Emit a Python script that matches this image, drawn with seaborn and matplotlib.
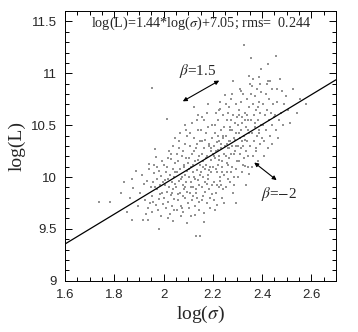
import matplotlib
matplotlib.use("Agg")
import matplotlib.pyplot as plt
import seaborn as sns
import numpy as np
import pandas as pd

# ---- data ----
log_sigma = [
    1.739, 1.783, 1.827, 1.839, 1.853,
    1.871, 1.875, 1.872, 1.887, 1.862, 1.895,
    1.915, 1.936, 1.930, 1.905, 1.920, 1.940, 1.945, 1.912, 1.948, 1.925, 1.938, 1.942, 1.932,
    1.955, 1.965, 1.970, 1.980, 1.952, 1.958, 1.962, 1.968, 1.972, 1.975, 1.978, 1.983, 1.986,
    1.990, 1.993, 1.996, 1.954, 1.961, 1.966, 1.974, 1.981, 1.988, 1.994, 1.998, 1.957, 1.985,
    2.013, 2.037, 2.030, 2.002, 2.005, 2.008, 2.010, 2.012, 2.015, 2.018, 2.020, 2.022, 2.025,
    2.027, 2.029, 2.032, 2.034, 2.036, 2.038, 2.040, 2.042, 2.044, 2.046, 2.048, 2.003, 2.016,
    2.024, 2.033, 2.041, 2.047, 2.006, 2.019, 2.045, 2.039,
    2.096, 2.070, 2.052, 2.055, 2.057, 2.060, 2.062, 2.064, 2.066, 2.068, 2.071, 2.073, 2.075,
    2.077, 2.079, 2.081, 2.083, 2.085, 2.087, 2.089, 2.091, 2.093, 2.095, 2.097, 2.099, 2.054,
    2.058, 2.063, 2.069, 2.074, 2.078, 2.084, 2.088, 2.092, 2.098, 2.056, 2.067, 2.080, 2.094, 2.086,
    2.128, 2.123, 2.130, 2.148, 2.102, 2.104, 2.106, 2.108, 2.110, 2.112, 2.114, 2.116, 2.118,
    2.120, 2.122, 2.124, 2.126, 2.129, 2.131, 2.133, 2.135, 2.137, 2.139, 2.141, 2.143, 2.145,
    2.147, 2.149, 2.103, 2.107, 2.111, 2.115, 2.119, 2.125, 2.127, 2.134, 2.138, 2.142, 2.146,
    2.105, 2.113, 2.121, 2.132, 2.136, 2.144, 2.140,
    2.155, 2.164, 2.152, 2.154, 2.156, 2.158, 2.160, 2.162, 2.161, 2.166, 2.168, 2.170, 2.172,
    2.174, 2.176, 2.178, 2.180, 2.182, 2.184, 2.186, 2.188, 2.190, 2.192, 2.194, 2.196, 2.198,
    2.153, 2.157, 2.163, 2.167, 2.171, 2.175, 2.179, 2.183, 2.187, 2.191, 2.195, 2.199, 2.159,
    2.169, 2.177, 2.185, 2.193, 2.197, 2.165, 2.181,
    2.229, 2.218, 2.249, 2.202, 2.204, 2.206, 2.208, 2.210, 2.212, 2.214, 2.216, 2.219, 2.221,
    2.223, 2.225, 2.227, 2.231, 2.233, 2.235, 2.237, 2.239, 2.241, 2.243, 2.245, 2.247, 2.203,
    2.207, 2.211, 2.215, 2.220, 2.224, 2.228, 2.232, 2.236, 2.240, 2.244, 2.248, 2.205, 2.213,
    2.222, 2.230, 2.238, 2.246, 2.209, 2.226, 2.242, 2.217, 2.234,
    2.283, 2.280, 2.294, 2.252, 2.254, 2.256, 2.258, 2.260, 2.262, 2.264, 2.266, 2.268, 2.270,
    2.272, 2.274, 2.276, 2.278, 2.281, 2.284, 2.286, 2.288, 2.290, 2.292, 2.296, 2.298, 2.253,
    2.257, 2.261, 2.265, 2.269, 2.273, 2.277, 2.285, 2.289, 2.293, 2.297, 2.255, 2.263, 2.271,
    2.279, 2.287, 2.295, 2.259, 2.267, 2.275,
    2.327, 2.313, 2.347, 2.335, 2.345, 2.330, 2.302, 2.304, 2.306, 2.308, 2.310, 2.312, 2.314,
    2.316, 2.318, 2.320, 2.322, 2.324, 2.326, 2.328, 2.332, 2.334, 2.336, 2.338, 2.340, 2.342,
    2.344, 2.346, 2.348, 2.303, 2.307, 2.311, 2.315, 2.319, 2.323, 2.331, 2.339, 2.343, 2.349,
    2.305, 2.317, 2.329, 2.341,
    2.355, 2.358, 2.394, 2.387, 2.352, 2.356, 2.360, 2.362, 2.364, 2.366, 2.368, 2.370, 2.372,
    2.374, 2.376, 2.378, 2.380, 2.382, 2.384, 2.386, 2.388, 2.390, 2.392, 2.396, 2.399, 2.353,
    2.359, 2.365, 2.371, 2.377, 2.383, 2.389, 2.397, 2.393,
    2.424, 2.422, 2.432, 2.402, 2.405, 2.408, 2.411, 2.414, 2.417, 2.420, 2.423, 2.426, 2.429,
    2.433, 2.436, 2.439, 2.442, 2.445, 2.448, 2.407, 2.419, 2.441,
    2.456, 2.459, 2.480, 2.452, 2.457, 2.462, 2.468, 2.473, 2.478, 2.485, 2.490, 2.495, 2.465,
    2.505, 2.515, 2.525, 2.540, 2.555, 2.580,
]
log_L = [
    9.76, 9.76, 9.85, 9.95, 9.66,
    9.98, 9.89, 9.59, 10.06, 9.80, 9.72,
    9.59, 9.59, 9.64, 9.85, 9.93, 10.08, 9.75, 10.02, 9.90, 9.78, 9.70, 10.13, 9.96,
    10.86, 10.27, 10.19, 9.50, 9.82, 9.95, 10.04, 9.73, 9.88, 10.10, 9.68, 9.79, 9.92,
    10.01, 9.85, 9.74, 9.66, 10.12, 9.90, 9.98, 10.06, 9.62, 10.15, 9.95, 9.76, 9.84,
    10.56, 10.30, 10.17, 9.80, 9.92, 10.05, 9.70, 9.86, 10.10, 9.98, 9.76, 9.90, 10.02,
    9.64, 9.83, 10.22, 9.95, 9.72, 10.08, 9.88, 10.00, 9.79, 10.14, 9.93, 10.12, 9.60,
    10.25, 9.85, 9.68, 10.05, 9.97, 10.18, 10.38, 9.58,
    9.56, 9.62, 9.90, 10.05, 9.78, 10.15, 9.96, 10.28, 9.85, 10.08, 9.72, 10.00, 10.20,
    9.92, 9.66, 10.12, 9.88, 10.32, 10.02, 9.80, 10.18, 9.95, 10.40, 10.06, 9.75, 10.22,
    9.84, 10.35, 9.98, 9.70, 10.25, 10.10, 9.90, 10.45, 10.14, 9.68, 10.42, 9.82, 9.86, 10.50,
    9.63, 10.68, 9.43, 9.43, 10.00, 10.18, 9.85, 10.30, 9.95, 10.10, 9.78, 10.22, 10.05,
    9.90, 10.38, 10.00, 9.72, 10.15, 9.88, 10.28, 10.07, 9.80, 10.45, 9.97, 10.20, 9.68,
    10.12, 10.35, 9.70, 10.42, 9.90, 10.52, 9.82, 10.25, 9.98, 10.55, 10.16, 9.92, 10.02,
    10.08, 9.62, 10.12, 9.85, 10.32, 9.76, 10.60,
    10.58, 9.57, 10.05, 10.22, 9.90, 10.35, 10.00, 10.15, 9.82, 10.28, 10.08, 9.95, 10.42,
    10.12, 9.75, 10.20, 10.02, 10.48, 9.88, 10.30, 10.10, 9.70, 10.25, 10.05, 10.38, 9.92,
    10.45, 9.78, 10.55, 9.86, 10.18, 10.62, 9.98, 10.32, 9.80, 10.16, 10.50, 10.22, 10.10,
    10.36, 9.93, 10.07, 10.28, 9.84, 9.65, 10.70,
    10.66, 9.73, 10.79, 10.10, 10.30, 9.95, 10.42, 10.18, 9.85, 10.25, 10.05, 10.55, 10.12,
    9.90, 10.35, 10.20, 10.00, 10.45, 10.28, 9.80, 10.15, 10.60, 10.38, 10.02, 10.22, 9.78,
    10.50, 10.08, 9.92, 10.40, 10.65, 9.96, 10.32, 10.10, 9.88, 10.48, 10.30, 10.20, 10.62,
    10.26, 10.72, 10.05, 9.75, 9.68, 10.16, 10.40, 10.34, 9.92,
    10.93, 9.85, 9.75, 10.20, 10.40, 10.05, 10.55, 10.28, 10.12, 10.68, 10.35, 9.95, 10.48,
    10.22, 10.75, 10.30, 10.10, 10.60, 10.38, 10.00, 10.52, 10.25, 10.70, 10.42, 10.15, 9.90,
    10.32, 10.62, 10.18, 10.45, 10.05, 10.80, 10.22, 10.36, 10.08, 10.58, 10.70, 9.98, 10.35,
    10.45, 9.92, 10.30, 10.14, 10.28, 10.55,
    11.27, 10.83, 10.97, 9.92, 10.03, 10.11, 10.30, 10.50, 10.15, 10.65, 10.38, 10.22, 10.72,
    10.45, 10.05, 10.58, 10.30, 10.80, 10.40, 10.18, 10.62, 10.48, 10.25, 10.75, 10.35, 10.10,
    10.55, 10.42, 10.68, 10.00, 10.42, 10.85, 10.28, 10.52, 10.12, 10.36, 10.60, 10.20, 10.90,
    10.60, 10.35, 10.55, 10.45,
    11.15, 10.88, 11.04, 10.96, 10.30, 10.55, 10.42, 10.70, 10.20, 10.60, 10.35, 10.78, 10.48,
    10.25, 10.65, 10.40, 10.85, 10.55, 10.15, 10.45, 10.72, 10.32, 10.62, 10.50, 10.38, 10.80,
    10.10, 10.95, 10.52, 10.28, 10.68, 10.42, 10.82, 10.90,
    11.09, 10.93, 10.93, 10.50, 10.70, 10.35, 10.60, 10.80, 10.45, 10.65, 10.28, 10.55, 10.75,
    10.40, 10.62, 10.85, 10.50, 10.70, 10.58, 10.20, 10.90, 10.32,
    11.17, 10.85, 10.83, 10.60, 10.45, 10.72, 10.55, 10.95, 10.62, 10.50, 10.70, 10.78, 10.38,
    10.65, 10.52, 10.85, 10.62, 10.75, 10.70,
]

fit_slope = 1.44
fit_intercept = 7.05
fit_rms = 0.244

x_limits = [1.6, 2.7]
y_limits = [9.0, 11.6]
x_ticks = [1.6, 1.8, 2.0, 2.2, 2.4, 2.6]
x_ticklabels = ["1.6", "1.8", "2", "2.2", "2.4", "2.6"]
y_ticks = [9.0, 9.5, 10.0, 10.5, 11.0, 11.5]
y_ticklabels = ["9", "9.5", "10", "10.5", "11", "11.5"]

df = pd.DataFrame({"log_sigma": log_sigma, "log_L": log_L})

sns.set_style("ticks")
plt.rcParams["font.family"] = ["Liberation Serif", "DejaVu Serif"]
plt.rcParams["mathtext.fontset"] = "stix"

fig = plt.figure(figsize=(3.58, 3.32), dpi=100)
ax = fig.add_axes([0.1816, 0.1545, 0.757, 0.812])

sns.scatterplot(data=df, x="log_sigma", y="log_L", ax=ax, color="#939393",
                s=3, marker="s", linewidth=0, legend=False)

line_x = np.array(x_limits)
line_df = pd.DataFrame({"x": line_x, "y": fit_slope * line_x + fit_intercept})
sns.lineplot(data=line_df, x="x", y="y", ax=ax, color="black", linewidth=0.9)

ax.set_xlim(*x_limits)
ax.set_ylim(*y_limits)
ax.set_xticks(x_ticks)
ax.set_xticklabels(x_ticklabels, family="Liberation Sans", fontsize=9.5)
ax.set_yticks(y_ticks)
ax.set_yticklabels(y_ticklabels, family="Liberation Sans", fontsize=9.5)
ax.xaxis.set_minor_locator(matplotlib.ticker.MultipleLocator(0.05))
ax.yaxis.set_minor_locator(matplotlib.ticker.MultipleLocator(0.1))
ax.tick_params(which="both", direction="in", top=True, right=True, color="black", width=0.7)
ax.tick_params(which="major", length=5)
ax.tick_params(axis="x", which="major", pad=6)
ax.tick_params(axis="y", which="major", pad=6)
ax.tick_params(which="minor", length=2.7)
for sp in ax.spines.values():
    sp.set_linewidth(0.7)
    sp.set_color("black")

ax.set_xlabel(r"log($\sigma$)", fontsize=14, labelpad=2)
ax.set_ylabel("log(L)", fontsize=14, labelpad=4)

ax.text(0.096, 0.955,
        r"log(L)=%.2f*log($\sigma$)+%.2f; rms=  %.3f" % (fit_slope, fit_intercept, fit_rms),
        transform=ax.transAxes, fontsize=10.2, va="center", ha="left")

ax.text(2.14, 11.02, r"$\beta$=1.5", fontsize=11, ha="center", va="center")
ax.annotate("", xy=(2.226, 10.93), xytext=(2.078, 10.73),
            arrowprops=dict(arrowstyle="<|-|>", color="black", lw=0.8,
                            mutation_scale=6, shrinkA=0, shrinkB=0))
ax.text(2.47, 9.84, r"$\beta$=$-$2", fontsize=11, ha="center", va="center")
ax.annotate("", xy=(2.459, 9.97), xytext=(2.368, 10.14),
            arrowprops=dict(arrowstyle="<|-|>", color="black", lw=0.8,
                            mutation_scale=6, shrinkA=0, shrinkB=0))

fig.savefig("out.png", dpi=100)
